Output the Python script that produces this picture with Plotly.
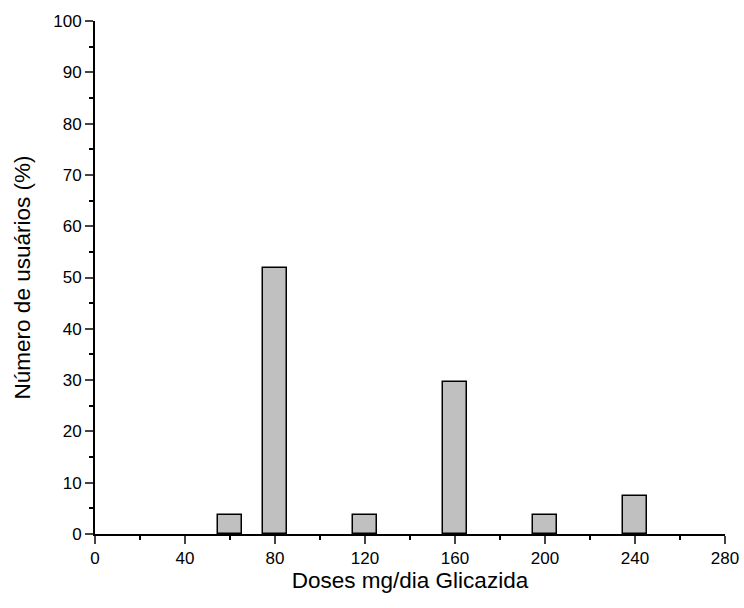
import plotly.graph_objects as go

doses = [60, 80, 120, 160, 200, 240]
usuarios = [3.7, 51.9, 3.7, 29.6, 3.7, 7.4]
x_ticks = [0, 40, 80, 120, 160, 200, 240, 280]
y_ticks = [0, 10, 20, 30, 40, 50, 60, 70, 80, 90, 100]

fig = go.Figure(go.Bar(
    x=doses, y=usuarios, width=11,
    marker=dict(color="#c0c0c0", line=dict(color="black", width=1.5)),
))

font = "Liberation Sans, Arial, sans-serif"
fig.update_layout(
    width=744, height=608,
    margin=dict(l=95, r=19, t=21, b=74),
    plot_bgcolor="white", paper_bgcolor="white",
    showlegend=False,
    font=dict(family=font, size=17, color="black"),
    bargap=0,
)
fig.update_xaxes(
    range=[0, 280], tickvals=x_ticks, ticks="outside", ticklen=8, tickwidth=2,
    showline=True, linecolor="black", linewidth=2, showgrid=False, zeroline=False,
    minor=dict(dtick=20, tick0=0, ticks="outside", ticklen=4, tickwidth=2, tickcolor="black"),
    title=dict(text="Doses mg/dia Glicazida", font=dict(size=22.5), standoff=5),
    tickfont=dict(size=17), automargin=False,
)
fig.update_yaxes(
    range=[0, 100], tickvals=y_ticks, ticks="outside", ticklen=8, tickwidth=2,
    showline=True, linecolor="black", linewidth=2, showgrid=False, zeroline=False,
    minor=dict(dtick=5, tick0=0, ticks="outside", ticklen=4, tickwidth=2, tickcolor="black"),
    title=dict(text="Número de usuários (%)", font=dict(size=22.5), standoff=16),
    tickfont=dict(size=17), automargin=False,
)
fig.write_html("out.html")
